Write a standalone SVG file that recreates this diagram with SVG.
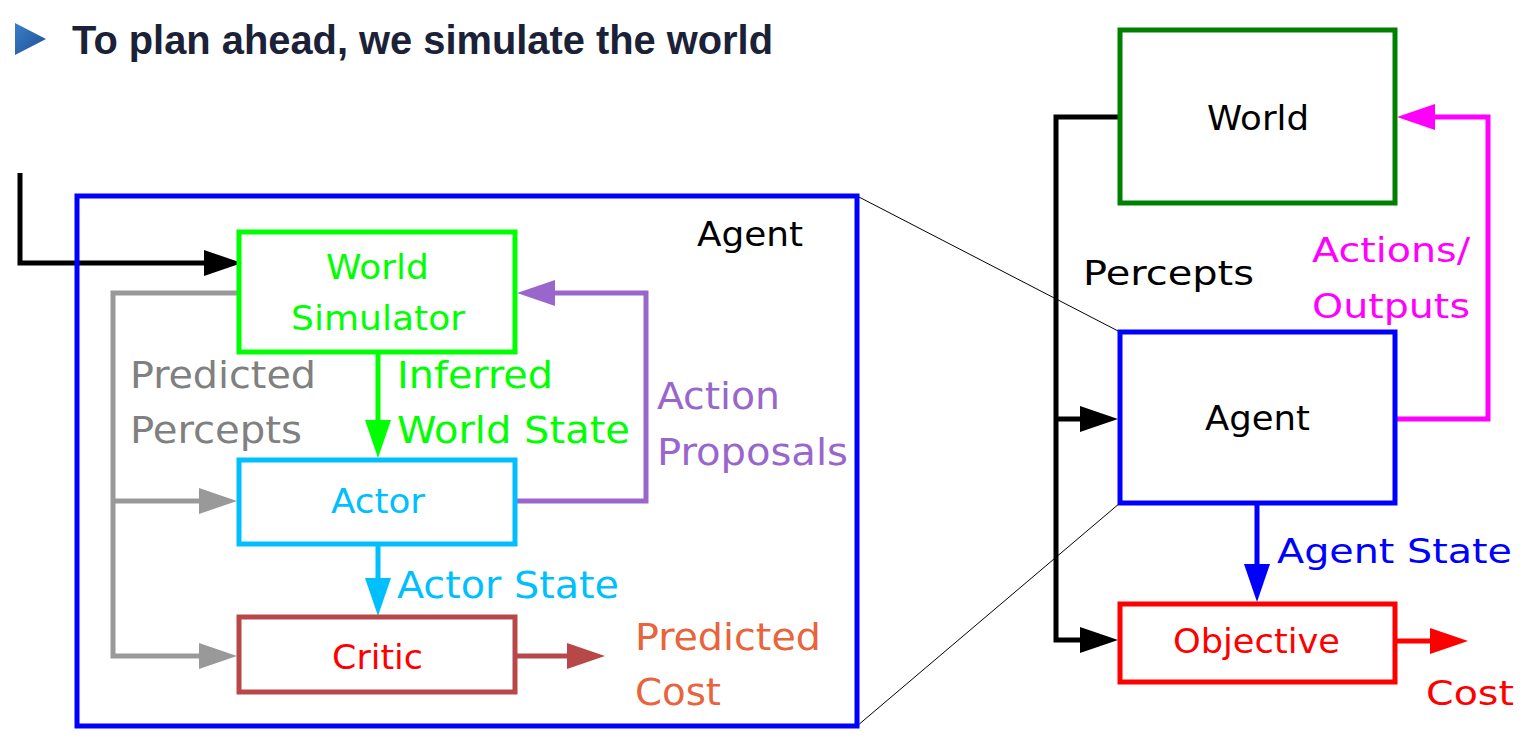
<svg xmlns="http://www.w3.org/2000/svg" width="1524" height="744" viewBox="0 0 1524 744">
<style>
.box{fill:none;stroke-width:5;stroke-linejoin:miter}
.ln{fill:none;stroke-width:5;stroke-linejoin:miter;stroke-linecap:butt}
.c{font-family:"DejaVu Sans Condensed","DejaVu Sans",sans-serif;font-size:34px}
.l{font-family:"DejaVu Sans Condensed","DejaVu Sans",sans-serif;font-size:38px}
.r{font-family:"DejaVu Sans",sans-serif;font-size:34px}
.title{font-family:"Liberation Sans",Arial,sans-serif;font-weight:bold;font-size:40px;fill:#1b2238}
</style>
<defs>
<linearGradient id="tg" x1="0" y1="0" x2="1" y2="1"><stop offset="0" stop-color="#3b7fc8"/><stop offset="1" stop-color="#1d4f96"/></linearGradient>
<marker id="aK" markerUnits="userSpaceOnUse" markerWidth="38" markerHeight="26" refX="2" refY="13" orient="auto"><path d="M0,0 L38,13 L0,26 z" fill="#000"/></marker>
<marker id="aG" markerUnits="userSpaceOnUse" markerWidth="38" markerHeight="26" refX="2" refY="13" orient="auto"><path d="M0,0 L38,13 L0,26 z" fill="#999"/></marker>
<marker id="aL" markerUnits="userSpaceOnUse" markerWidth="38" markerHeight="26" refX="2" refY="13" orient="auto"><path d="M0,0 L38,13 L0,26 z" fill="#00ff00"/></marker>
<marker id="aP" markerUnits="userSpaceOnUse" markerWidth="38" markerHeight="26" refX="2" refY="13" orient="auto"><path d="M0,0 L38,13 L0,26 z" fill="#9966cc"/></marker>
<marker id="aS" markerUnits="userSpaceOnUse" markerWidth="38" markerHeight="26" refX="2" refY="13" orient="auto"><path d="M0,0 L38,13 L0,26 z" fill="#00bfff"/></marker>
<marker id="aC" markerUnits="userSpaceOnUse" markerWidth="38" markerHeight="26" refX="2" refY="13" orient="auto"><path d="M0,0 L38,13 L0,26 z" fill="#b84848"/></marker>
<marker id="aM" markerUnits="userSpaceOnUse" markerWidth="38" markerHeight="26" refX="2" refY="13" orient="auto"><path d="M0,0 L38,13 L0,26 z" fill="#ff00ff"/></marker>
<marker id="aB" markerUnits="userSpaceOnUse" markerWidth="38" markerHeight="26" refX="2" refY="13" orient="auto"><path d="M0,0 L38,13 L0,26 z" fill="#0000ff"/></marker>
<marker id="aR" markerUnits="userSpaceOnUse" markerWidth="38" markerHeight="26" refX="2" refY="13" orient="auto"><path d="M0,0 L38,13 L0,26 z" fill="#ff0000"/></marker>
</defs>
<rect width="1524" height="744" fill="#fff"/>

<g id="title">
<polygon points="15,23 46,39 15,55" fill="url(#tg)"/>
<text class="title" x="72" y="54" textLength="701" lengthAdjust="spacingAndGlyphs">To plan ahead, we simulate the world</text>
</g>

<g id="connectors">
<path class="ln" stroke="#000" d="M20,173 V263 H206" marker-end="url(#aK)"/>
<path class="ln" stroke="#999" d="M239,293 H113 V656 H201" marker-end="url(#aG)"/>
<path class="ln" stroke="#999" d="M113,501 H201" marker-end="url(#aG)"/>
<path class="ln" stroke="#00ff00" d="M378,352 V422" marker-end="url(#aL)"/>
<path class="ln" stroke="#9966cc" d="M515,501 H646 V293 H553" marker-end="url(#aP)"/>
<path class="ln" stroke="#00bfff" d="M378,544 V580" marker-end="url(#aS)"/>
<path class="ln" stroke="#b84848" d="M515,656 H569" marker-end="url(#aC)"/>
<path class="ln" stroke="#000" d="M1120,117 H1056 V640 H1082" marker-end="url(#aK)"/>
<path class="ln" stroke="#000" d="M1056,419 H1082" marker-end="url(#aK)"/>
<path class="ln" stroke="#ff00ff" d="M1395,419 H1488 V117 H1433" marker-end="url(#aM)"/>
<path class="ln" stroke="#0000ff" d="M1257,503 V566" marker-end="url(#aB)"/>
<path class="ln" stroke="#ff0000" d="M1395,641 H1432" marker-end="url(#aR)"/>
<path d="M857,196 L1120,332 M857,726 L1120,503" stroke="#000" stroke-width="1" fill="none"/>
</g>

<g id="agent-detail">
<rect class="box" x="77" y="196" width="780" height="530" stroke="#0000ff"/>
<text class="c" x="697" y="246" fill="#000" textLength="106" lengthAdjust="spacingAndGlyphs">Agent</text>
</g>

<g id="world-simulator">
<rect class="box" x="239" y="232" width="276" height="120" stroke="#00ff00"/>
<text class="c" x="326" y="279" fill="#00ff00" textLength="103" lengthAdjust="spacingAndGlyphs">World</text>
<text class="c" x="291" y="330" fill="#00ff00" textLength="174" lengthAdjust="spacingAndGlyphs">Simulator</text>
</g>

<g id="actor">
<rect class="box" x="239" y="460" width="276" height="84" stroke="#00bfff"/>
<text class="c" x="331" y="513" fill="#00bfff" textLength="94" lengthAdjust="spacingAndGlyphs">Actor</text>
</g>

<g id="critic">
<rect class="box" x="239" y="617" width="276" height="75" stroke="#b84848"/>
<text class="c" x="332" y="669" fill="#ff0000" textLength="91" lengthAdjust="spacingAndGlyphs">Critic</text>
</g>

<g id="left-labels">
<text class="l" x="130" y="388" fill="#808080" textLength="186" lengthAdjust="spacingAndGlyphs">Predicted</text>
<text class="l" x="130" y="443" fill="#808080" textLength="172" lengthAdjust="spacingAndGlyphs">Percepts</text>
<text class="l" x="397" y="388" fill="#00ff00" textLength="156" lengthAdjust="spacingAndGlyphs">Inferred</text>
<text class="l" x="397" y="443" fill="#00ff00" textLength="233" lengthAdjust="spacingAndGlyphs">World State</text>
<text class="l" x="657" y="409" fill="#9966cc" textLength="123" lengthAdjust="spacingAndGlyphs">Action</text>
<text class="l" x="657" y="465" fill="#9966cc" textLength="191" lengthAdjust="spacingAndGlyphs">Proposals</text>
<text class="l" x="397" y="598" fill="#00bfff" textLength="222" lengthAdjust="spacingAndGlyphs">Actor State</text>
<text class="l" x="635" y="650" fill="#e8643c" textLength="186" lengthAdjust="spacingAndGlyphs">Predicted</text>
<text class="l" x="635" y="705" fill="#e8643c" textLength="86" lengthAdjust="spacingAndGlyphs">Cost</text>
</g>

<g id="world">
<rect class="box" x="1120" y="30" width="275" height="173" stroke="#008000"/>
<text class="r" x="1207" y="130" fill="#000" textLength="102" lengthAdjust="spacingAndGlyphs">World</text>
</g>

<g id="agent">
<rect class="box" x="1120" y="332" width="275" height="171" stroke="#0000ff"/>
<text class="r" x="1205" y="430" fill="#000" textLength="105" lengthAdjust="spacingAndGlyphs">Agent</text>
</g>

<g id="objective">
<rect class="box" x="1120" y="604" width="275" height="78" stroke="#ff0000"/>
<text class="r" x="1173" y="653" fill="#ff0000" textLength="167" lengthAdjust="spacingAndGlyphs">Objective</text>
</g>

<g id="right-labels">
<text class="r" x="1083" y="285" fill="#000" textLength="171" lengthAdjust="spacingAndGlyphs">Percepts</text>
<text class="r" x="1312" y="262" fill="#ff00ff" textLength="158" lengthAdjust="spacingAndGlyphs">Actions/</text>
<text class="r" x="1312" y="318" fill="#ff00ff" textLength="158" lengthAdjust="spacingAndGlyphs">Outputs</text>
<text class="r" x="1277" y="563" fill="#0000ff" textLength="235" lengthAdjust="spacingAndGlyphs">Agent State</text>
<text class="r" x="1426" y="705" fill="#ff0000" textLength="88" lengthAdjust="spacingAndGlyphs">Cost</text>
</g>
</svg>
